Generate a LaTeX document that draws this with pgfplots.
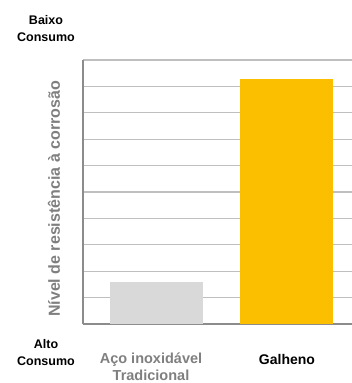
\documentclass[border=0pt]{standalone}
\usepackage{pgfplots}
\pgfplotsset{compat=1.18}
\usepackage{fontspec}
\setmainfont{Liberation Sans}
\definecolor{barGray}{HTML}{D9D9D9}
\definecolor{barYel}{HTML}{FBBF00}
\definecolor{gridG}{HTML}{BFBFBF}
\definecolor{axG}{HTML}{8C8C8C}
\definecolor{txtG}{HTML}{7F7F7F}
\begin{document}
\begin{tikzpicture}[x=1pt,y=1pt]
\useasboundingbox (0,0) rectangle (352,383);
\begin{axis}[
  at={(83pt,59pt)}, anchor=south west,
  scale only axis, width=269pt, height=264pt,
  xmin=-0.569, xmax=1.5, ymin=0, ymax=10,
  axis x line*=bottom, axis y line*=left,
  ytick={0,1,...,10}, yticklabels={}, xtick=\empty,
  major tick length=0pt,
  ymajorgrids, grid style={gridG, line width=1.2pt},
  axis line style={axG, line width=1.4pt, -},
  ybar, bar width=93pt, bar shift=0pt,
]
\addplot[fill=barGray, draw=none] coordinates {(0,1.6)};
\addplot[fill=barYel, draw=none] coordinates {(1,9.28)};
\end{axis}
\node[font=\bfseries\fontsize{12.5}{17}\selectfont, align=center] at (46,354) {Baixo\\Consumo};
\node[font=\bfseries\fontsize{12.5}{17}\selectfont, align=center] at (46,30) {Alto\\Consumo};
\node[font=\bfseries\fontsize{14.5}{16.5}\selectfont, align=center, text=txtG] at (151,16) {Aço inoxidável\\Tradicional};
\node[font=\bfseries\fontsize{14}{16}\selectfont] at (287,24) {Galheno};
\node[font=\bfseries\fontsize{16}{18}\selectfont, text=txtG, rotate=90] at (54,184) {Nível de resistência à corrosão};
\end{tikzpicture}
\end{document}
